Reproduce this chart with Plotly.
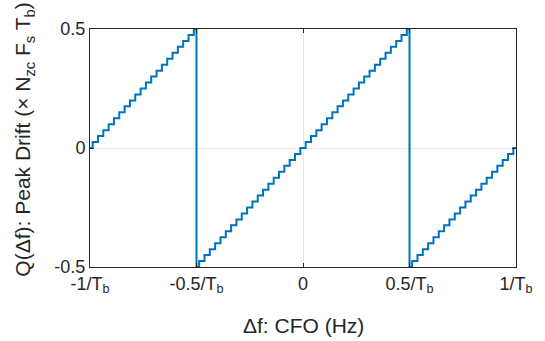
import plotly.graph_objects as go

# Quantised peak-drift levels (x N_zc F_s T_b), each held over one CFO step
drift_left = [0.0, 0.025, 0.05, 0.075, 0.1, 0.125, 0.15, 0.175, 0.2, 0.225,
              0.25, 0.275, 0.3, 0.325, 0.35, 0.375, 0.4, 0.425, 0.45, 0.475, 0.5, 0.5]
drift_mid = [-0.5, -0.475, -0.45, -0.425, -0.4, -0.375, -0.35, -0.325, -0.3, -0.275,
             -0.25, -0.225, -0.2, -0.175, -0.15, -0.125, -0.1, -0.075, -0.05, -0.025,
             0.0, 0.025, 0.05, 0.075, 0.1, 0.125, 0.15, 0.175, 0.2, 0.225,
             0.25, 0.275, 0.3, 0.325, 0.35, 0.375, 0.4, 0.425, 0.45, 0.475, 0.5, 0.5]
drift_right = [-0.5, -0.475, -0.45, -0.425, -0.4, -0.375, -0.35, -0.325, -0.3, -0.275,
               -0.25, -0.225, -0.2, -0.175, -0.15, -0.125, -0.1, -0.075, -0.05, -0.025, 0.0, 0.0]

# CFO (units of 1/T_b) where each level starts (last entry = end of segment)
cfo_left = [-1.0, -0.9875, -0.9625, -0.9375, -0.9125, -0.8875, -0.8625, -0.8375, -0.8125, -0.7875,
            -0.7625, -0.7375, -0.7125, -0.6875, -0.6625, -0.6375, -0.6125, -0.5875, -0.5625, -0.5375,
            -0.5125, -0.5]
cfo_mid = [-0.5, -0.4875, -0.4625, -0.4375, -0.4125, -0.3875, -0.3625, -0.3375, -0.3125, -0.2875,
           -0.2625, -0.2375, -0.2125, -0.1875, -0.1625, -0.1375, -0.1125, -0.0875, -0.0625, -0.0375,
           -0.0125, 0.0125, 0.0375, 0.0625, 0.0875, 0.1125, 0.1375, 0.1625, 0.1875, 0.2125,
           0.2375, 0.2625, 0.2875, 0.3125, 0.3375, 0.3625, 0.3875, 0.4125, 0.4375, 0.4625,
           0.4875, 0.5]
cfo_right = [0.5, 0.5125, 0.5375, 0.5625, 0.5875, 0.6125, 0.6375, 0.6625, 0.6875, 0.7125,
             0.7375, 0.7625, 0.7875, 0.8125, 0.8375, 0.8625, 0.8875, 0.9125, 0.9375, 0.9625,
             0.9875, 1.0]

x_ticks = [-1, -0.5, 0, 0.5, 1]
x_ticklabels = ["-1/T<sub>b</sub>", "-0.5/T<sub>b</sub>", "0", "0.5/T<sub>b</sub>", "1/T<sub>b</sub>"]
y_ticks = [-0.5, 0, 0.5]
y_ticklabels = ["-0.5", "0", "0.5"]

x_all = cfo_left + cfo_mid + cfo_right
y_all = drift_left + drift_mid + drift_right

FONT = "Liberation Sans, Arial, Helvetica, sans-serif"
AX = "#262626"

fig = go.Figure()
fig.add_trace(go.Scatter(x=x_all, y=y_all, mode="lines",
                         line=dict(color="#0072BD", width=2, shape="hv"),
                         showlegend=False, hoverinfo="skip"))

axis_common = dict(showline=True, linecolor=AX, linewidth=1, mirror="ticks",
                   ticks="inside", ticklen=4, tickcolor=AX, tickwidth=1,
                   showgrid=True, gridcolor="#e6e6e6", gridwidth=1, zeroline=False,
                   tickfont=dict(family=FONT, size=18, color=AX))

fig.update_xaxes(range=[-1, 1], tickvals=x_ticks, ticktext=x_ticklabels, **axis_common)
fig.update_yaxes(range=[-0.5, 0.5], tickvals=y_ticks, ticktext=y_ticklabels, **axis_common)

fig.add_annotation(text="Δf: CFO (Hz)", xref="paper", yref="paper", x=0.5, y=-0.245,
                   yanchor="middle", xanchor="center", showarrow=False,
                   font=dict(family=FONT, size=21, color=AX))
fig.add_annotation(text="Q(Δf): Peak Drift (× N<sub>zc</sub> F<sub>s</sub> T<sub>b</sub>)",
                   xref="paper", yref="paper", x=-0.155, y=0.535, textangle=-90,
                   xanchor="center", yanchor="middle", showarrow=False,
                   font=dict(family=FONT, size=21, color=AX))

fig.update_layout(width=545, height=341, margin=dict(l=90, r=17, t=29, b=74),
                  plot_bgcolor="white", paper_bgcolor="white")

fig.write_html("out.html")
